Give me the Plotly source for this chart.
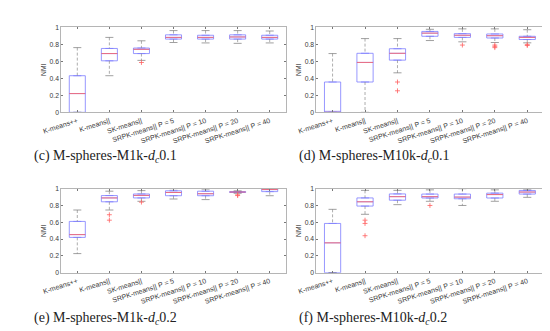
import plotly.graph_objects as go

W, H = 550, 331

categories = ["K-means++", "K-means||", "SK-means||", "SRPK-means|| P = 5",
              "SRPK-means|| P = 10", "SRPK-means|| P = 20", "SRPK-means|| P = 40"]
y_ticks = [0, 0.2, 0.4, 0.6, 0.8, 1]
y_tick_text = ["0", "0.2", "0.4", "0.6", "0.8", "1"]

# Panel (c) M-spheres-M1k-dc0.1
c_lo = [0.0, 0.43, 0.61, 0.82, 0.815, 0.81, 0.815]
c_q1 = [0.0, 0.605, 0.69, 0.86, 0.86, 0.86, 0.86]
c_med = [0.22, 0.69, 0.74, 0.88, 0.88, 0.885, 0.88]
c_q3 = [0.43, 0.75, 0.755, 0.91, 0.905, 0.91, 0.905]
c_hi = [0.76, 0.88, 0.84, 0.96, 0.96, 0.96, 0.955]
c_out_x = [3]
c_out_y = [0.585]

# Panel (d) M-spheres-M10k-dc0.1
d_lo = [0.0, 0.0, 0.464, 0.843, 0.828, 0.82, 0.816]
d_q1 = [0.0, 0.356, 0.613, 0.893, 0.88, 0.873, 0.855]
d_med = [0.0, 0.586, 0.693, 0.93, 0.905, 0.9, 0.88]
d_q3 = [0.356, 0.693, 0.747, 0.95, 0.924, 0.92, 0.893]
d_hi = [0.69, 0.866, 0.866, 0.975, 0.98, 0.98, 0.97]
d_out_x = [3, 3, 5, 6, 6, 6, 7, 7]
d_out_y = [0.356, 0.253, 0.79, 0.79, 0.775, 0.76, 0.795, 0.785]

# Panel (e) M-spheres-M1k-dc0.2
e_lo = [0.227, 0.746, 0.85, 0.877, 0.87, 0.945, 0.916]
e_q1 = [0.42, 0.844, 0.89, 0.916, 0.916, 0.955, 0.965]
e_med = [0.453, 0.89, 0.92, 0.955, 0.94, 0.96, 0.99]
e_q3 = [0.61, 0.918, 0.937, 0.975, 0.97, 0.965, 1.0]
e_hi = [0.746, 0.97, 0.977, 1.0, 0.995, 0.975, 1.0]
e_out_x = [2, 2, 3, 6, 6]
e_out_y = [0.69, 0.625, 0.84, 0.927, 0.918]

# Panel (f) M-spheres-M10k-dc0.2
f_lo = [0.0, 0.695, 0.81, 0.85, 0.80, 0.85, 0.897]
f_q1 = [0.0, 0.793, 0.863, 0.889, 0.88, 0.889, 0.936]
f_med = [0.355, 0.844, 0.905, 0.905, 0.9, 0.93, 0.96]
f_q3 = [0.586, 0.89, 0.9375, 0.936, 0.936, 0.947, 0.979]
f_hi = [0.754, 0.98, 0.98, 0.986, 1.0, 0.986, 0.995]
f_out_x = [2, 2, 2, 4]
f_out_y = [0.625, 0.586, 0.44, 0.80]

panels = [
    ("c", "M-spheres-M1k-", "0.1", c_lo, c_q1, c_med, c_q3, c_hi, c_out_x, c_out_y),
    ("d", "M-spheres-M10k-", "0.1", d_lo, d_q1, d_med, d_q3, d_hi, d_out_x, d_out_y),
    ("e", "M-spheres-M1k-", "0.2", e_lo, e_q1, e_med, e_q3, e_hi, e_out_x, e_out_y),
    ("f", "M-spheres-M10k-", "0.2", f_lo, f_q1, f_med, f_q3, f_hi, f_out_x, f_out_y),
]

# layout geometry (pixels)
x_px = {"c": (35.5, 268.0, 7.5), "d": (299.7, 541.7, 7.7),
        "e": (35.5, 268.0, 7.5), "f": (299.7, 541.7, 7.7)}
y_px = {"c": (15.5, 102.5), "d": (15.5, 102.5),
        "e": (180.5, 266.3), "f": (180.5, 266.3)}
cap_px = {"c": (5, 148), "d": (280, 148), "e": (5, 313), "f": (280, 313)}

BOX_W = 0.5
CAP_W = 0.25
pos = list(range(1, len(categories) + 1))

BOX_COL = "rgb(125,125,255)"
MED_COL = "rgb(255,95,95)"
WHISK_COL = "#8a8a8a"
CAP_COL = "#777777"

fig = go.Figure()
layout = dict(width=W, height=H, margin=dict(l=0, r=0, t=0, b=0),
              paper_bgcolor="white", plot_bgcolor="white", showlegend=False,
              annotations=[])

tick_font = dict(family="Liberation Sans, Arial, sans-serif", size=7, color="#3a3a3a")
ytick_font = dict(family="Liberation Sans, Arial, sans-serif", size=6.8, color="#3a3a3a")

for k, (tag, name, dval, lo, q1, med, q3, hi, ox, oy) in enumerate(panels):
    xa = "x" if k == 0 else f"x{k+1}"
    ya = "y" if k == 0 else f"y{k+1}"
    xk = "xaxis" if k == 0 else f"xaxis{k+1}"
    yk = "yaxis" if k == 0 else f"yaxis{k+1}"

    # whiskers (dashed)
    wx, wy = [], []
    for p, a, b, c2, d2 in zip(pos, lo, q1, q3, hi):
        wx += [p, p, None, p, p, None]
        wy += [d2, c2, None, b, a, None]
    fig.add_trace(go.Scatter(x=wx, y=wy, mode="lines", xaxis=xa, yaxis=ya,
                             line=dict(color=WHISK_COL, width=0.7, dash="3px,2px"),
                             hoverinfo="skip"))
    # caps
    cx, cy = [], []
    for p, a, d2 in zip(pos, lo, hi):
        cx += [p - CAP_W / 2, p + CAP_W / 2, None, p - CAP_W / 2, p + CAP_W / 2, None]
        cy += [d2, d2, None, a, a, None]
    fig.add_trace(go.Scatter(x=cx, y=cy, mode="lines", xaxis=xa, yaxis=ya,
                             line=dict(color=CAP_COL, width=0.7), hoverinfo="skip"))
    # boxes
    fig.add_trace(go.Box(x=pos, q1=q1, median=med, q3=q3, lowerfence=q1, upperfence=q3,
                         width=BOX_W, xaxis=xa, yaxis=ya,
                         line=dict(color=BOX_COL, width=0.8),
                         fillcolor="rgba(0,0,0,0)", boxpoints=False, hoverinfo="skip"))
    # medians (red)
    mx, my = [], []
    for p, m in zip(pos, med):
        mx += [p - BOX_W / 2, p + BOX_W / 2, None]
        my += [m, m, None]
    fig.add_trace(go.Scatter(x=mx, y=my, mode="lines", xaxis=xa, yaxis=ya,
                             line=dict(color=MED_COL, width=0.8), hoverinfo="skip"))
    # outliers
    fig.add_trace(go.Scatter(x=ox, y=oy, mode="markers", xaxis=xa, yaxis=ya,
                             marker=dict(symbol="cross-thin", size=3.5,
                                         line=dict(color=MED_COL, width=0.8)),
                             hoverinfo="skip"))

    x0, x1, xr = x_px[tag]
    y0, y1 = y_px[tag]
    layout[xk] = dict(domain=[x0 / W, x1 / W], range=[0.5, xr], anchor=ya,
                      tickmode="array", tickvals=pos, ticktext=categories,
                      tickangle=-18, tickfont=tick_font, ticks="inside", ticklen=2,
                      tickcolor="#777777", showline=True, linecolor="#b5b5b5",
                      linewidth=0.8, mirror="ticks", showgrid=False, zeroline=False,
                      ticklabelstandoff=1)
    layout[yk] = dict(domain=[1 - y1 / H, 1 - y0 / H], range=[0, 1], anchor=xa,
                      tickmode="array", tickvals=y_ticks, ticktext=y_tick_text,
                      tickfont=ytick_font, ticks="inside", ticklen=2, tickcolor="#777777",
                      showline=True, linecolor="#b5b5b5", linewidth=0.8, mirror="ticks",
                      showgrid=False, zeroline=False,
                      title=dict(text="NMI", font=ytick_font, standoff=2))
    cxp, cyp = cap_px[tag]
    layout["annotations"].append(dict(
        xref="paper", yref="paper", x=cxp / W, y=1 - cyp / H, xanchor="left", yanchor="middle",
        showarrow=False,
        text=f"({tag}) {name}<i>d</i><sub><i>c</i></sub>{dval}",
        font=dict(family="Liberation Serif, Times New Roman, serif", size=14, color="#222222")))

fig.update_layout(**layout)
fig.write_html("out.html")
